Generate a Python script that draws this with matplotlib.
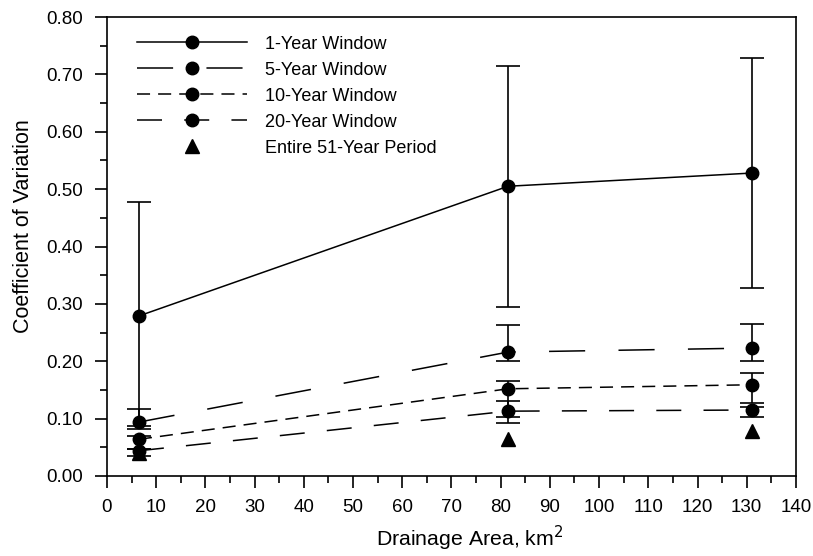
import numpy as np
import matplotlib
matplotlib.use('Agg')
import matplotlib.pyplot as plt

plt.rcParams['font.family'] = ['Liberation Sans', 'DejaVu Sans']
plt.rcParams['lines.scale_dashes'] = False

# drainage area of the three basins (km2)
area = [6.5, 81.5, 131.0]

# coefficient of variation, with min / max of the moving windows
cv_1yr = [0.279, 0.505, 0.528]
lo_1yr = [0.082, 0.295, 0.327]
hi_1yr = [0.478, 0.714, 0.728]

cv_5yr = [0.094, 0.216, 0.223]
lo_5yr = [0.087, 0.201, 0.200]
hi_5yr = [0.116, 0.264, 0.265]

cv_10yr = [0.064, 0.152, 0.159]
lo_10yr = [0.047, 0.093, 0.127]
hi_10yr = [0.070, 0.165, 0.180]

cv_20yr = [0.044, 0.113, 0.115]
lo_20yr = [0.035, 0.102, 0.103]
hi_20yr = [0.047, 0.131, 0.120]

cv_51yr = [0.040, 0.064, 0.079]

labels = ['1-Year Window', '5-Year Window', '10-Year Window', '20-Year Window',
          'Entire 51-Year Period']

fig = plt.figure(figsize=(8.13, 5.56), dpi=100)
ax = fig.add_axes([0.1316, 0.1439, 0.8474, 0.8255])

series = [
    (cv_1yr, lo_1yr, hi_1yr, None),
    (cv_5yr, lo_5yr, hi_5yr, (26, 24)),
    (cv_10yr, lo_10yr, hi_10yr, (9.4, 5.8)),
    (cv_20yr, lo_20yr, hi_20yr, (18, 16)),
]

handles = []
for cv, lo, hi, dash in series:
    cv = np.array(cv)
    err = [cv - np.array(lo), np.array(hi) - cv]
    ax.errorbar(area, cv, yerr=err, fmt='none', ecolor='black',
                elinewidth=1.2, capsize=8.5, capthick=1.2, zorder=2)
    if dash is None:
        h, = ax.plot(area, cv, color='black', lw=1.1, marker='o', ms=9, zorder=3)
    else:
        h, = ax.plot(area, cv, color='black', lw=1.1, marker='o', ms=9,
                     dashes=dash, zorder=3)
    handles.append(h)

h, = ax.plot(area, cv_51yr, ls='none', marker='^', color='black', ms=10, zorder=3)
handles.append(h)

ax.legend(handles, labels, loc='upper left', frameon=False, fontsize=13,
          handlelength=6.1, handletextpad=1.0, labelspacing=0.5,
          bbox_to_anchor=(0.02, 0.995), numpoints=1)

ax.set_xlim(0, 140)
ax.set_ylim(0, 0.8)
ax.set_xticks(np.arange(0, 141, 10))
ax.set_xticks(np.arange(0, 141, 5), minor=True)
ax.set_yticks(np.arange(0, 0.81, 0.1))
ax.set_yticks(np.arange(0, 0.81, 0.05), minor=True)
ax.set_yticklabels(['%.2f' % v for v in np.arange(0, 0.81, 0.1)])
ax.tick_params(which='major', direction='out', length=8.6, width=1.2, labelsize=13.5)
ax.tick_params(which='minor', direction='out', length=5, width=1.2)
ax.tick_params(axis='x', which='major', pad=8)
ax.tick_params(axis='y', which='major', pad=9)
for s in ax.spines.values():
    s.set_linewidth(1.2)

ax.set_xlabel('Drainage Area, km$^2$', fontsize=15.3)
ax.set_ylabel('Coefficient of Variation', fontsize=15.5)
ax.xaxis.set_label_coords(0.526, -0.105)
ax.yaxis.set_label_coords(-0.106, 0.545)

fig.savefig('out.png', dpi=100)
